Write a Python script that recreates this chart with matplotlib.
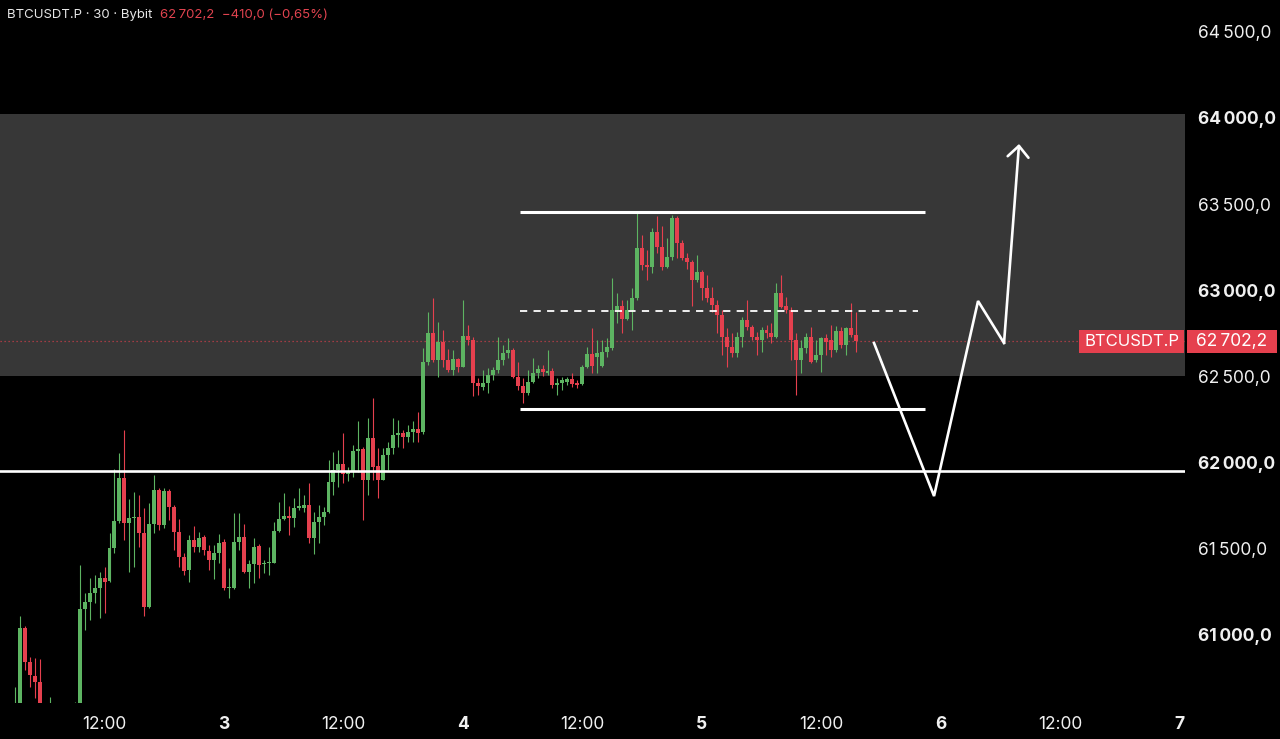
import matplotlib
matplotlib.use("Agg")
import matplotlib.pyplot as plt
import matplotlib.transforms as mtransforms
from matplotlib.patches import Rectangle
import numpy as np

plt.rcParams["font.family"] = ["Inter", "DejaVu Sans"]

# ---------------- data ----------------
# 30-minute candles; x axis in hours relative to day "3" 00:00
first_hour = -21.0          # first candle: day 2, 03:00
bar_hours = 0.5

opens = [
    60442, 60500, 61035, 60837, 60756, 60721, 60442, 60355, 60413, 60326,
    60267, 60355, 60442, 60500, 61146, 61186, 61239, 61267, 61325, 61308,
    61500, 61657, 61907, 61646, 61675, 61681, 61587, 61157, 61640, 61837,
    61634, 61831, 61738, 61593, 61448, 61372, 61546, 61506, 61564, 61483,
    61430, 61471, 61535, 61267, 61267, 61535, 61564, 61360, 61407, 61512,
    61407, 61413, 61413, 61599, 61669, 61686, 61675, 61733, 61733, 61750,
    61558, 61651, 61681, 61709, 61884, 61953, 61988, 61930, 61942, 62064,
    62076, 61895, 62140, 61977, 61895, 62041, 62081, 62157, 62168, 62145,
    62174, 62192, 62174, 62582, 62750, 62593, 62698, 62593, 62535, 62599,
    62553, 62733, 62709, 62460, 62436, 62460, 62506, 62535, 62593, 62634,
    62651, 62494, 62442, 62401, 62465, 62518, 62541, 62518, 62529, 62448,
    62460, 62465, 62483, 62460, 62454, 62553, 62628, 62611, 62558, 62640,
    62663, 62884, 62907, 62832, 62884, 62954, 63244, 63145, 63134, 63337,
    63250, 63134, 63192, 63419, 63273, 63186, 63163, 63058, 63105, 63012,
    62954, 62913, 62855, 62727, 62669, 62634, 62727, 62826, 62785, 62727,
    62709, 62768, 62750, 62727, 62983, 62907, 62884, 62709, 62593, 62663,
    62727, 62593, 62622, 62721, 62709, 62651, 62762, 62680, 62779, 62739,
]
highs = [
    60692, 61105, 61046, 60866, 60861, 60855, 60529, 60634, 60500, 60384,
    60413, 60500, 60605, 61401, 61239, 61325, 61343, 61360, 61389, 61587,
    61959, 62053, 62186, 61785, 61826, 61808, 61733, 61762, 61924, 61849,
    61849, 61843, 61750, 61669, 61471, 61576, 61628, 61593, 61576, 61518,
    61518, 61581, 61552, 61384, 61704, 61704, 61640, 61430, 61558, 61523,
    61430, 61506, 61651, 61768, 61820, 61744, 61791, 61849, 61808, 61878,
    61709, 61750, 61738, 62012, 62058, 62070, 62168, 61971, 62099, 62238,
    62087, 62256, 62372, 62081, 62081, 62116, 62256, 62244, 62186, 62215,
    62238, 62291, 62663, 62872, 62953, 62814, 62768, 62657, 62651, 62605,
    62942, 62797, 62727, 62488, 62535, 62547, 62553, 62727, 62680, 62721,
    62663, 62582, 62488, 62535, 62605, 62564, 62564, 62651, 62547, 62488,
    62494, 62494, 62518, 62477, 62564, 62669, 62779, 62709, 62709, 62721,
    63070, 62983, 62942, 62942, 63012, 63448, 63320, 63232, 63360, 63430,
    63372, 63302, 63436, 63430, 63291, 63215, 63174, 63203, 63116, 63087,
    63018, 62942, 62884, 62779, 62750, 62756, 62843, 62942, 62797, 62756,
    62785, 62797, 62808, 63041, 63087, 62959, 62901, 62750, 62709, 62750,
    62785, 62709, 62727, 62744, 62797, 62791, 62785, 62785, 62925, 62872,
]
lows = [
    60413, 60488, 60791, 60692, 60628, 60413, 60326, 60297, 60267, 60209,
    60221, 60326, 60413, 60471, 61023, 61081, 61180, 61093, 61122, 61302,
    61471, 61646, 61546, 61360, 61389, 61506, 61105, 61151, 61587, 61605,
    61617, 61663, 61488, 61389, 61343, 61302, 61477, 61477, 61459, 61372,
    61320, 61413, 61256, 61209, 61262, 61488, 61355, 61267, 61297, 61325,
    61355, 61343, 61413, 61593, 61663, 61576, 61622, 61721, 61709, 61529,
    61465, 61529, 61634, 61704, 61808, 61855, 61878, 61890, 61913, 61942,
    61663, 61808, 61895, 61791, 61895, 61953, 62047, 62087, 62081, 62116,
    62116, 62116, 62163, 62564, 62582, 62495, 62553, 62523, 62506, 62523,
    62553, 62680, 62382, 62390, 62419, 62401, 62477, 62518, 62564, 62604,
    62488, 62419, 62343, 62390, 62460, 62488, 62500, 62506, 62430, 62390,
    62419, 62448, 62436, 62430, 62448, 62547, 62518, 62518, 62553, 62611,
    62651, 62808, 62750, 62826, 62768, 62942, 63116, 63058, 63099, 63215,
    63116, 63128, 63174, 63186, 63174, 63122, 62907, 63047, 62942, 62930,
    62872, 62750, 62622, 62553, 62611, 62611, 62669, 62768, 62709, 62622,
    62640, 62721, 62692, 62721, 62896, 62866, 62593, 62390, 62518, 62634,
    62576, 62582, 62523, 62622, 62611, 62640, 62663, 62622, 62727, 62640,
]
closes = [
    60500, 61035, 60837, 60762, 60721, 60442, 60355, 60413, 60326, 60267,
    60355, 60442, 60500, 61146, 61186, 61239, 61267, 61325, 61302, 61500,
    61657, 61907, 61646, 61675, 61681, 61587, 61157, 61640, 61837, 61634,
    61831, 61738, 61593, 61448, 61366, 61546, 61506, 61558, 61488, 61430,
    61471, 61529, 61267, 61273, 61535, 61564, 61360, 61407, 61506, 61401,
    61413, 61419, 61599, 61669, 61686, 61675, 61733, 61744, 61750, 61558,
    61651, 61681, 61709, 61884, 61953, 61988, 61930, 61942, 62064, 62076,
    61895, 62140, 61971, 61895, 62041, 62081, 62157, 62168, 62145, 62174,
    62192, 62168, 62582, 62750, 62593, 62698, 62593, 62535, 62599, 62553,
    62733, 62709, 62460, 62442, 62460, 62506, 62535, 62593, 62634, 62651,
    62494, 62442, 62401, 62465, 62518, 62541, 62523, 62529, 62448, 62460,
    62477, 62483, 62454, 62448, 62553, 62628, 62558, 62634, 62640, 62669,
    62884, 62907, 62832, 62884, 62954, 63244, 63145, 63134, 63337, 63250,
    63134, 63192, 63419, 63273, 63186, 63163, 63058, 63105, 63012, 62954,
    62913, 62855, 62727, 62669, 62634, 62727, 62826, 62785, 62727, 62709,
    62768, 62750, 62727, 62983, 62902, 62884, 62709, 62593, 62663, 62727,
    62582, 62622, 62721, 62698, 62651, 62762, 62680, 62779, 62739, 62702.2,
]

symbol_title = "BTCUSDT.P \u00b7 30 \u00b7 Bybit"
quote_text = "62\u2009702,2  \u2212410,0 (\u22120,65%)"
symbol_tag = "BTCUSDT.P"
last_price = 62702.2
last_price_label = "62\u2009702,2"

price_ticks = [61000, 61500, 62000, 62500, 63000, 63500, 64000, 64500]
price_labels = ["61\u2009000,0", "61\u2009500,0", "62\u2009000,0", "62\u2009500,0",
                "63\u2009000,0", "63\u2009500,0", "64\u2009000,0", "64\u2009500,0"]
time_ticks = [-12, 0, 12, 24, 36, 48, 60, 72, 84, 96]
time_labels = ["12:00", "3", "12:00", "4", "12:00", "5", "12:00", "6", "12:00", "7"]

zone_low, zone_high = 62500, 64021
support_level = 61950
range_high, range_low, range_mid = 63453, 62308, 62878
range_start, range_end, range_mid_end = 29.74, 70.42, 69.72
path_hours = [65.3, 71.33, 75.75, 78.36, 79.87]
path_prices = [62692, 61802, 62936, 62692, 63849]

# ---------------- style ----------------
GREEN = "#5db462"
RED = "#e5404e"
TEXT = "#f0f0f0"

fig = plt.figure(figsize=(12.8, 7.39), dpi=100, facecolor="black")
ax = fig.add_axes([0, 36 / 739, 1185 / 1280, 703 / 739], facecolor="black")
ax.set_xlim(-22.5, 96.54)
ax.set_ylim(60599, 64686)
for s in ax.spines.values():
    s.set_visible(False)

ax.axhspan(zone_low, zone_high, color="#373737", lw=0, zorder=0)

o = np.array(opens, dtype=float)
c = np.array(closes, dtype=float)
h = np.array(highs, dtype=float)
l = np.array(lows, dtype=float)
t = first_hour + bar_hours * np.arange(len(o))
colors = [GREEN if cc >= oo else RED for oo, cc in zip(o, c)]
ax.vlines(t, l, h, colors=colors, lw=0.8, zorder=3)
body = np.maximum(np.abs(c - o), 6)
ax.bar(t, body, bottom=np.minimum(o, c), width=0.40, color=colors, lw=0, zorder=4)

ax.axhline(last_price, color=RED, lw=0.9, ls=(0, (1, 2.2)), alpha=0.8, zorder=2)
ax.axhline(support_level, color="white", lw=1.9, zorder=5)
ax.hlines([range_high, range_low], range_start, range_end, color="white", lw=2.2, zorder=5)
ax.hlines(range_mid, range_start, range_mid_end, color="white", lw=1.3,
          linestyles=[(0, (4, 3.5))], zorder=5)

ax.plot(path_hours[:-1], path_prices[:-1], color="white", lw=1.9, zorder=6,
        solid_joinstyle="miter")
ax.annotate("", xy=(path_hours[-1], path_prices[-1]),
            xytext=(path_hours[-2], path_prices[-2]),
            arrowprops=dict(arrowstyle="->,head_length=0.8,head_width=0.75",
                            color="white", lw=1.9, shrinkA=0, shrinkB=0),
            zorder=6)

ax.yaxis.tick_right()
ax.set_yticks(price_ticks, price_labels)
ax.tick_params(axis="y", length=0, pad=9.5, labelsize=12.5, labelcolor=TEXT)
for lab, tk in zip(ax.get_yticklabels(), price_ticks):
    if tk % 1000 == 0:
        lab.set_fontweight("bold")

ax.set_xticks(time_ticks, time_labels)
ax.tick_params(axis="x", length=0, pad=9.5, labelsize=12.5, labelcolor=TEXT)
for lab in ax.get_xticklabels():
    if ":" not in lab.get_text():
        lab.set_fontweight("bold")

# header
fig.text(7 / 1280, 1 - 15 / 739, symbol_title, color="#e6e6e6", fontsize=9.5,
         va="center", ha="left")
fig.text(160 / 1280, 1 - 15 / 739, quote_text, color="#e0434f", fontsize=9.5,
         va="center", ha="left")

# last price tags
blend = mtransforms.blended_transform_factory(fig.transFigure, ax.transData)
box_h = 134
fig.add_artist(Rectangle((1079 / 1280, last_price - box_h / 2), 105 / 1280, box_h,
                         transform=blend, color=RED, lw=0, zorder=10))
fig.add_artist(Rectangle((1187 / 1280, last_price - box_h / 2), 90 / 1280, box_h,
                         transform=blend, color=RED, lw=0, zorder=10))
fig.text(1131.5 / 1280, last_price, symbol_tag, transform=blend, color="white",
         fontsize=12, ha="center", va="center", zorder=11)
fig.text(1232 / 1280, last_price, last_price_label, transform=blend, color="white",
         fontsize=12.5, ha="center", va="center", zorder=11)

fig.savefig("out.png", dpi=100, facecolor="black")
